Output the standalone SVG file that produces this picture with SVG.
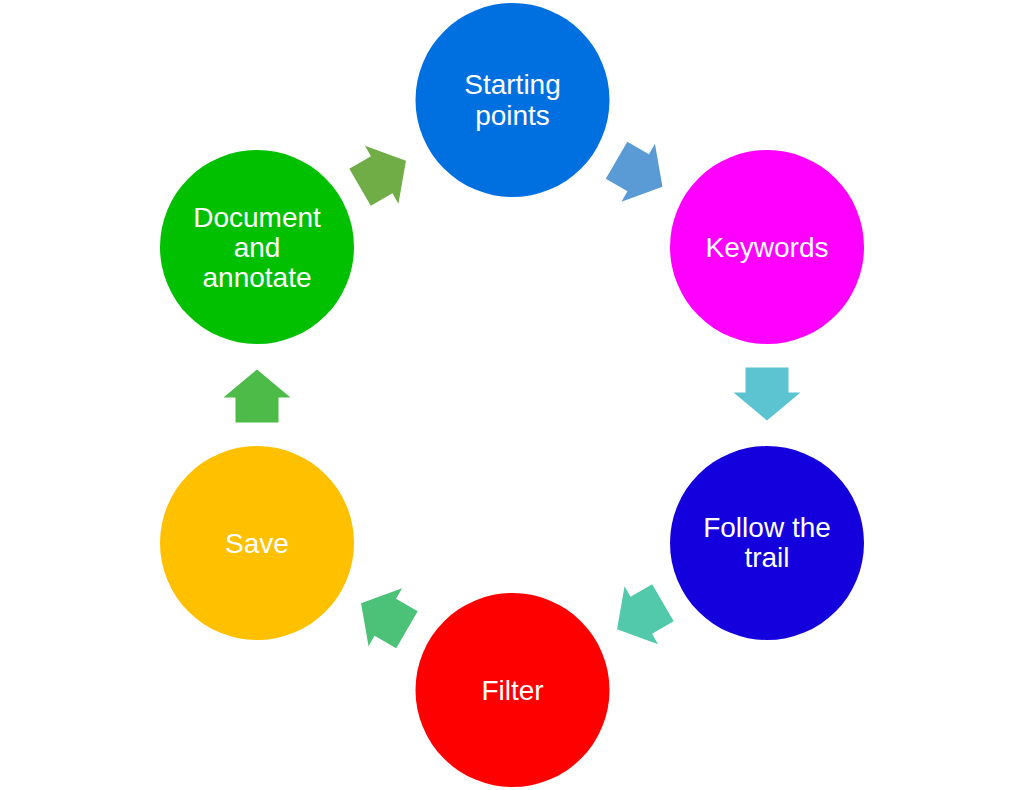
<svg xmlns="http://www.w3.org/2000/svg" width="1024" height="790" viewBox="0 0 1024 790">
<style>
.lbl{font-family:"Liberation Sans",Arial,Helvetica,sans-serif;font-size:28px;fill:#ffffff;text-anchor:middle}
</style>
<defs>
<path id="arr" d="M-26.5,-21.5 L-1.5,-21.5 L-1.5,-33.5 L26.5,0 L-1.5,33.5 L-1.5,21.5 L-26.5,21.5 Z"/>
</defs>
<rect width="1024" height="790" fill="#ffffff"/>
<g id="connectors">
<use href="#arr" fill="#5B9BD5" transform="translate(639.5,173.5) rotate(30)"/>
<use href="#arr" fill="#5BC4D0" transform="translate(767,394) rotate(90)"/>
<use href="#arr" fill="#52C9AA" transform="translate(640,616) rotate(150)"/>
<use href="#arr" fill="#4CC278" transform="translate(384,616.5) rotate(-150)"/>
<use href="#arr" fill="#4CBB47" transform="translate(257,396) rotate(-90)"/>
<use href="#arr" fill="#70AD47" transform="translate(383,174) rotate(-30)"/>
</g>
<g id="node-starting">
<circle cx="512.5" cy="100" r="97" fill="#0070E0"/>
<text class="lbl" x="512.5" y="93.5">Starting</text>
<text class="lbl" x="512.5" y="124.5">points</text>
</g>
<g id="node-keywords">
<circle cx="767" cy="247" r="97" fill="#FF00FF"/>
<text class="lbl" x="767" y="257">Keywords</text>
</g>
<g id="node-follow">
<circle cx="767" cy="543" r="97" fill="#1400DC"/>
<text class="lbl" x="767" y="536.5">Follow the</text>
<text class="lbl" x="767" y="567">trail</text>
</g>
<g id="node-filter">
<circle cx="512.5" cy="690" r="97" fill="#FF0000"/>
<text class="lbl" x="512.5" y="700">Filter</text>
</g>
<g id="node-save">
<circle cx="257" cy="543" r="97" fill="#FFC000"/>
<text class="lbl" x="257" y="553">Save</text>
</g>
<g id="node-document">
<circle cx="257" cy="247" r="97" fill="#00C000"/>
<text class="lbl" x="257" y="226.5">Document</text>
<text class="lbl" x="257" y="257">and</text>
<text class="lbl" x="257" y="287">annotate</text>
</g>
</svg>
